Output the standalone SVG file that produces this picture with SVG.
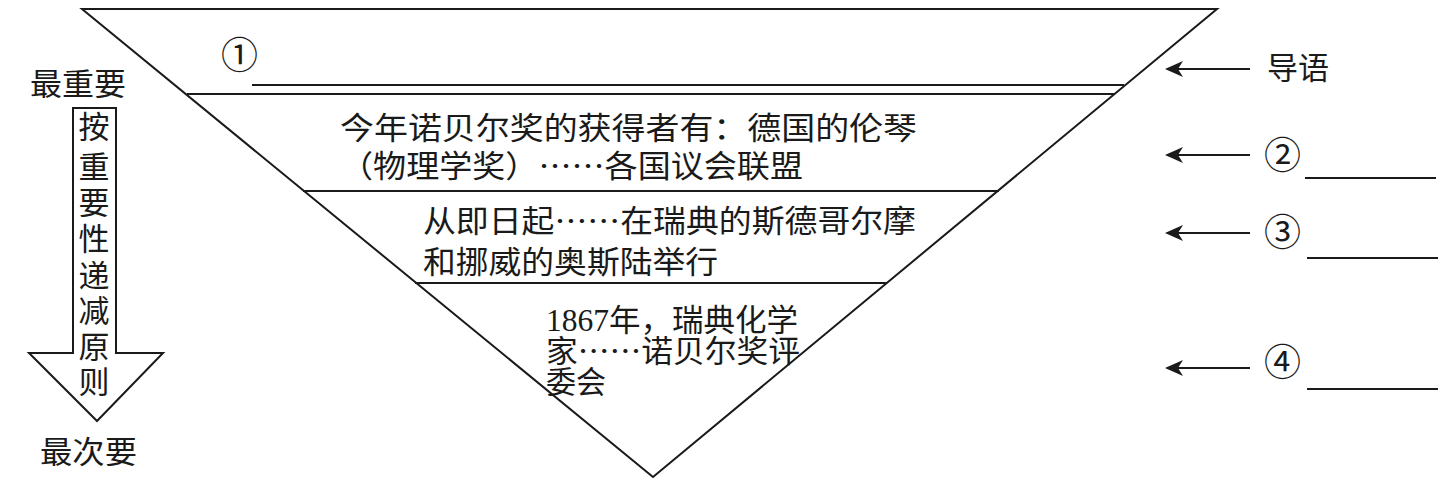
<svg xmlns="http://www.w3.org/2000/svg" width="1456" height="487" viewBox="0 0 1456 487">
<defs>
<style>
.ln{stroke:#1a1a1a;stroke-width:2;fill:none}
.t{font-family:"Liberation Serif","Noto Sans CJK SC",serif;font-size:31px;fill:#1a1a1a}
.c{font-family:"Noto Sans CJK SC","DejaVu Sans",sans-serif;font-size:37px;fill:#1a1a1a}
.e{font-family:"Noto Sans CJK SC",sans-serif}
</style>
<marker id="ah" viewBox="0 0 18 16" refX="16" refY="8" markerWidth="18" markerHeight="16" markerUnits="userSpaceOnUse" orient="auto">
<path d="M18,8 L0,0 L5,8 L0,16 Z" fill="#1a1a1a"/>
</marker>
</defs>
<rect width="1456" height="487" fill="#fff"/>
<g id="pyramid">
<polygon class="ln" points="82,9 1217,9 653,477"/>
<line class="ln" x1="187" y1="94" x2="1114" y2="94"/>
<line class="ln" x1="303" y1="191" x2="999" y2="191"/>
<line class="ln" x1="415" y1="283" x2="887" y2="283"/>
</g>
<g id="layer1">
<text class="c" x="221" y="69">①</text>
<line class="ln" x1="252" y1="85" x2="1124" y2="85"/>
</g>
<g id="layer2">
<text class="t" x="340" y="139" textLength="577" lengthAdjust="spacingAndGlyphs">今年诺贝尔奖的获得者有：德国的伦琴</text>
<text class="t" x="340" y="177" textLength="463" lengthAdjust="spacingAndGlyphs">（物理学奖）<tspan class="e">……</tspan>各国议会联盟</text>
</g>
<g id="layer3">
<text class="t" x="423" y="232" textLength="493" lengthAdjust="spacingAndGlyphs">从即日起<tspan class="e">……</tspan>在瑞典的斯德哥尔摩</text>
<text class="t" x="423" y="273" textLength="295" lengthAdjust="spacingAndGlyphs">和挪威的奥斯陆举行</text>
</g>
<g id="layer4">
<text class="t" x="546" y="331" font-size="29" textLength="252" lengthAdjust="spacingAndGlyphs">1867年，瑞典化学</text>
<text class="t" x="546" y="362" font-size="29" textLength="254" lengthAdjust="spacingAndGlyphs">家<tspan class="e">……</tspan>诺贝尔奖评</text>
<text class="t" x="546" y="393" font-size="29" textLength="60" lengthAdjust="spacingAndGlyphs">委会</text>
</g>
<g id="importance">
<text class="t" x="30" y="95" font-size="32" textLength="96" lengthAdjust="spacingAndGlyphs">最重要</text>
<polygon class="ln" points="73,108 116,108 116,353 163,353 97,421 29,353 73,353"/>
<g class="t" text-anchor="middle" font-size="29">
<text x="94" y="138">按</text>
<text x="94" y="178">重</text>
<text x="94" y="214">要</text>
<text x="94" y="250">性</text>
<text x="94" y="287">递</text>
<text x="94" y="322">减</text>
<text x="94" y="358">原</text>
<text x="94" y="393">则</text>
</g>
<text class="t" x="40" y="463" font-size="32" textLength="97" lengthAdjust="spacingAndGlyphs">最次要</text>
</g>
<g id="labels">
<text class="t" x="1267" y="79" font-size="32">导语</text>
<text class="c" x="1264" y="169">②</text>
<line class="ln" x1="1305" y1="178" x2="1436" y2="178"/>
<text class="c" x="1264" y="246">③</text>
<line class="ln" x1="1307" y1="258" x2="1438" y2="258"/>
<text class="c" x="1264" y="376">④</text>
<line class="ln" x1="1307" y1="389" x2="1438" y2="389"/>
</g>
<g id="connectors">
<line class="ln" x1="1250" y1="69" x2="1167" y2="69" marker-end="url(#ah)"/>
<line class="ln" x1="1250" y1="155" x2="1167" y2="155" marker-end="url(#ah)"/>
<line class="ln" x1="1250" y1="233" x2="1167" y2="233" marker-end="url(#ah)"/>
<line class="ln" x1="1250" y1="368" x2="1167" y2="368" marker-end="url(#ah)"/>
</g>
</svg>
